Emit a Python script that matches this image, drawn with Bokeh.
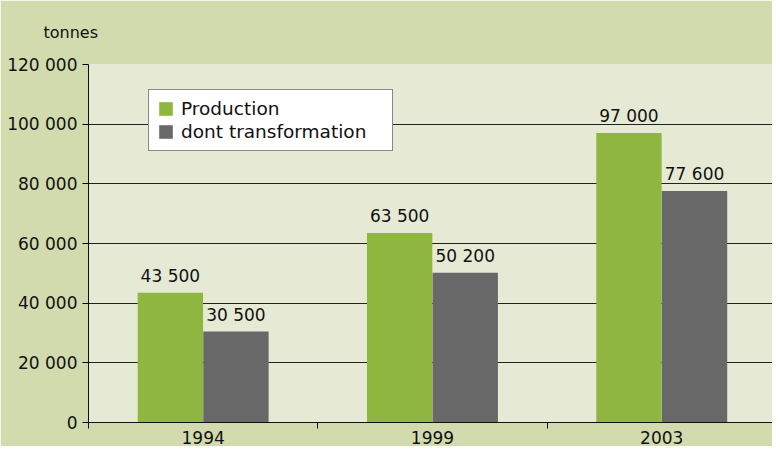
from bokeh.plotting import figure
from bokeh.models import (ColumnDataSource, Range1d, FixedTicker, Legend, LegendItem,
                          LabelSet)
from bokeh.core.properties import value
from bokeh.embed import file_html
from bokeh.resources import INLINE

years = ["1994", "1999", "2003"]
production = [43500, 63500, 97000]
transformation = [30500, 50200, 77600]
y_ticks = [0, 20000, 40000, 60000, 80000, 100000, 120000]

def fmt(v):
    return f"{v:,}".replace(",", " ")

centers = [i + 0.5 for i in range(len(years))]
src_p = ColumnDataSource(dict(x=[c - 0.143 for c in centers], top=production,
                              lab=[fmt(v) for v in production]))
src_t = ColumnDataSource(dict(x=[c + 0.143 for c in centers], top=transformation,
                              lab=[fmt(v) for v in transformation]))

OUTER = "#d1dbad"
INNER = "#e6ead4"
GREEN = "#8fb63e"
GREY = "#686868"
INK = "#111111"
FONT = "DejaVu Sans"

p = figure(width=772, height=446, output_backend="svg", toolbar_location=None,
           x_range=Range1d(0, 2.983), y_range=Range1d(0, 120000),
           min_border_left=88, min_border_right=0, min_border_top=64, min_border_bottom=24)
p.background_fill_color = INNER
p.border_fill_color = OUTER
p.outline_line_color = None

p.title.text = "tonnes"
p.title.align = "left"
p.title.offset = -45
p.title.vertical_align = "top"
p.title.standoff = 42
p.title.text_font = FONT
p.title.text_font_size = "16px"
p.title.text_font_style = "normal"
p.title.text_color = INK

r1 = p.vbar(x="x", top="top", width=0.285, source=src_p, fill_color=GREEN, line_color=None)
r2 = p.vbar(x="x", top="top", width=0.285, source=src_t, fill_color=GREY, line_color=None)

for src in (src_p, src_t):
    p.add_layout(LabelSet(x="x", y="top", text="lab", source=src, text_align="center",
                          text_baseline="alphabetic", y_offset=11, text_font_size="17px",
                          text_color=INK, text_font=value(FONT)))

# axes
p.xaxis.ticker = FixedTicker(ticks=centers, minor_ticks=[0, 1, 2, 3])
p.xaxis.major_label_overrides = {c: y for c, y in zip(centers, years)}
p.xaxis.major_label_text_font = FONT
p.xaxis.major_label_text_font_size = "17px"
p.xaxis.major_label_text_color = INK
p.xaxis.major_tick_line_color = None
p.xaxis.major_tick_out = 0
p.xaxis.major_tick_in = 0
p.xaxis.minor_tick_out = 6
p.xaxis.minor_tick_in = 0
p.xaxis.minor_tick_line_color = INK
p.xaxis.major_label_standoff = 2

p.yaxis.ticker = FixedTicker(ticks=y_ticks)
p.yaxis.major_label_overrides = {v: fmt(v) for v in y_ticks}
p.yaxis.major_tick_out = 6
p.yaxis.major_tick_in = 0
p.yaxis.minor_tick_line_color = None
p.yaxis.major_label_standoff = 5
p.yaxis.major_label_text_font = FONT
p.yaxis.major_label_text_font_size = "17px"
p.yaxis.major_label_text_color = INK

for ax in (p.xaxis[0], p.yaxis[0]):
    ax.axis_line_color = INK

p.xgrid.grid_line_color = None
p.ygrid.grid_line_color = "#222222"
p.ygrid.grid_line_width = 1

legend = Legend(items=[LegendItem(label="Production", renderers=[r1]),
                       LegendItem(label="dont transformation", renderers=[r2])],
                location=(60, 271), padding=8, spacing=2,
                glyph_width=17, glyph_height=17, label_standoff=7, label_width=203,
                label_text_font=FONT, label_text_font_size="18.5px",
                label_text_color=INK,
                border_line_color=INK, border_line_width=1,
                background_fill_color="white", background_fill_alpha=1)
p.add_layout(legend, "center")

open("out.html", "w").write(file_html(p, INLINE))
